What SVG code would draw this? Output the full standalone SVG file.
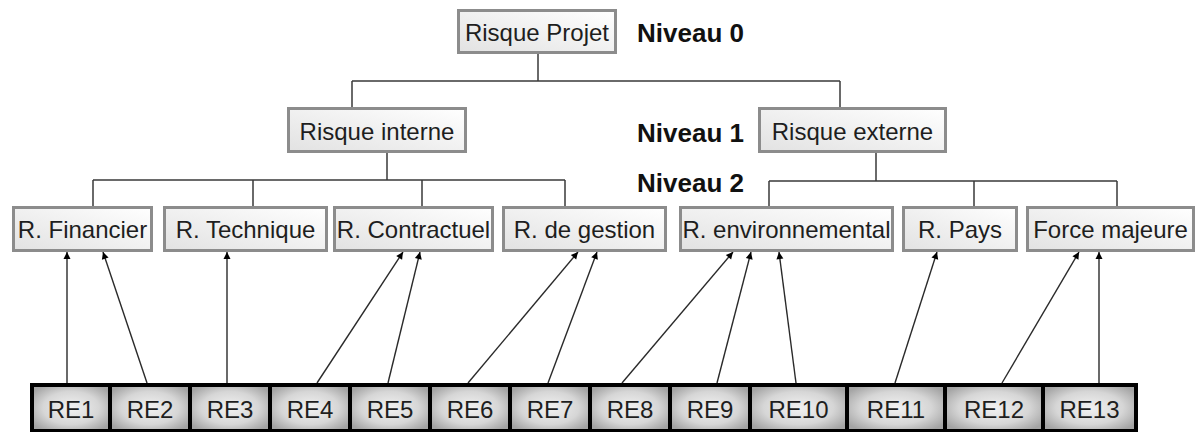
<svg xmlns="http://www.w3.org/2000/svg" width="1203" height="432" viewBox="0 0 1203 432">
<style>
.box{fill:url(#lg);stroke:#8c8c8c;stroke-width:3}
.re{fill:url(#rg);stroke:#000;stroke-width:4}
.t{font-family:"Liberation Sans",Arial,sans-serif;font-size:24px;fill:#1e1e1e;text-anchor:middle}
.lv{font-family:"Liberation Sans",Arial,sans-serif;font-size:26px;font-weight:bold;fill:#111}
.c{fill:none;stroke:#3a3a3a;stroke-width:1.5}
.a{fill:none;stroke:#2a2a2a;stroke-width:1.4;marker-end:url(#ah)}
</style>
<defs>
<linearGradient id="lg" x1="1" y1="0" x2="0" y2="1">
<stop offset="0" stop-color="#ffffff"/>
<stop offset="1" stop-color="#e2e2e2"/>
</linearGradient>
<radialGradient id="rg" cx="0.5" cy="0.5" r="0.6">
<stop offset="0" stop-color="#f2f2f2"/>
<stop offset="0.6" stop-color="#d6d6d6"/>
<stop offset="1" stop-color="#a4a4a4"/>
</radialGradient>
<marker id="ah" viewBox="0 0 10 10" refX="10" refY="5" markerWidth="9" markerHeight="7" markerUnits="userSpaceOnUse" orient="auto" overflow="visible">
<path d="M0,0 L10,5 L0,10 z" fill="#000"/>
</marker>
</defs>
<g id="connectors">
<path class="c" d="M538,54 V81 M352,81 H840 M352,81 V107 M840,81 V107"/>
<path class="c" d="M387,153 V180 M93,180 H565 M93,180 V206 M253,180 V206 M422,180 V206 M565,180 V206"/>
<path class="c" d="M876,153 V181 M769,181 H1117 M769,181 V206 M974,181 V206 M1117,181 V206"/>
<line class="a" x1="67" y1="383" x2="67" y2="252"/>
<line class="a" x1="147" y1="383" x2="103" y2="252"/>
<line class="a" x1="227" y1="383" x2="227" y2="252"/>
<line class="a" x1="317" y1="383" x2="403" y2="252"/>
<line class="a" x1="388" y1="383" x2="420" y2="252"/>
<line class="a" x1="468" y1="383" x2="578" y2="252"/>
<line class="a" x1="548" y1="383" x2="597" y2="252"/>
<line class="a" x1="622" y1="383" x2="733" y2="252"/>
<line class="a" x1="717" y1="383" x2="751" y2="252"/>
<line class="a" x1="796" y1="383" x2="779" y2="252"/>
<line class="a" x1="895" y1="383" x2="937" y2="252"/>
<line class="a" x1="1002" y1="383" x2="1079" y2="252"/>
<line class="a" x1="1099" y1="383" x2="1099" y2="252"/>
</g>
<g id="risque-projet"><rect class="box" x="458.5" y="10.5" width="157" height="42"/><text class="t" x="537" y="41">Risque Projet</text></g>
<g id="risque-interne"><rect class="box" x="288.5" y="108.5" width="177" height="43"/><text class="t" x="377" y="140">Risque interne</text></g>
<g id="risque-externe"><rect class="box" x="759.5" y="108.5" width="186" height="43"/><text class="t" x="852.5" y="140">Risque externe</text></g>
<g id="r-financier"><rect class="box" x="13.5" y="207.5" width="138" height="43"/><text class="t" x="82.5" y="238">R. Financier</text></g>
<g id="r-technique"><rect class="box" x="164.5" y="207.5" width="162" height="43"/><text class="t" x="245.5" y="238">R. Technique</text></g>
<g id="r-contractuel"><rect class="box" x="334.5" y="207.5" width="158" height="43"/><text class="t" x="413.5" y="238">R. Contractuel</text></g>
<g id="r-gestion"><rect class="box" x="503.5" y="207.5" width="162" height="43"/><text class="t" x="584.5" y="238">R. de gestion</text></g>
<g id="r-environnemental"><rect class="box" x="680.5" y="207.5" width="212" height="43"/><text class="t" x="786.5" y="238">R. environnemental</text></g>
<g id="r-pays"><rect class="box" x="903.5" y="207.5" width="113" height="43"/><text class="t" x="960" y="238">R. Pays</text></g>
<g id="force-majeure"><rect class="box" x="1027.5" y="207.5" width="166" height="43"/><text class="t" x="1110.5" y="238">Force majeure</text></g>
<g id="niveaux">
<text class="lv" x="637" y="42">Niveau 0</text>
<text class="lv" x="637" y="142">Niveau 1</text>
<text class="lv" x="637" y="192">Niveau 2</text>
</g>
<g id="re1"><rect class="re" x="32" y="385" width="78" height="46"/><text class="t" x="71" y="418">RE1</text></g>
<g id="re2"><rect class="re" x="110" y="385" width="80" height="46"/><text class="t" x="150" y="418">RE2</text></g>
<g id="re3"><rect class="re" x="190" y="385" width="80" height="46"/><text class="t" x="230" y="418">RE3</text></g>
<g id="re4"><rect class="re" x="270" y="385" width="80" height="46"/><text class="t" x="310" y="418">RE4</text></g>
<g id="re5"><rect class="re" x="350" y="385" width="80" height="46"/><text class="t" x="390" y="418">RE5</text></g>
<g id="re6"><rect class="re" x="430" y="385" width="80" height="46"/><text class="t" x="470" y="418">RE6</text></g>
<g id="re7"><rect class="re" x="510" y="385" width="80" height="46"/><text class="t" x="550" y="418">RE7</text></g>
<g id="re8"><rect class="re" x="590" y="385" width="80" height="46"/><text class="t" x="630" y="418">RE8</text></g>
<g id="re9"><rect class="re" x="670" y="385" width="80" height="46"/><text class="t" x="710" y="418">RE9</text></g>
<g id="re10"><rect class="re" x="750" y="385" width="97" height="46"/><text class="t" x="798.5" y="418">RE10</text></g>
<g id="re11"><rect class="re" x="847" y="385" width="98" height="46"/><text class="t" x="896" y="418">RE11</text></g>
<g id="re12"><rect class="re" x="945" y="385" width="98" height="46"/><text class="t" x="994" y="418">RE12</text></g>
<g id="re13"><rect class="re" x="1043" y="385" width="93" height="46"/><text class="t" x="1089.5" y="418">RE13</text></g>
</svg>
